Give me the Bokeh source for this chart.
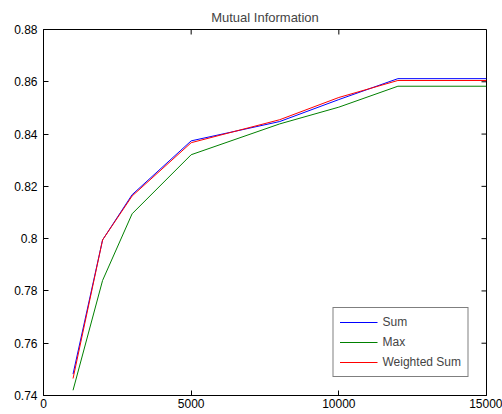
from bokeh.plotting import figure
from bokeh.models import FixedTicker, Legend, LegendItem, Range1d
from bokeh.embed import file_html
from bokeh.resources import INLINE

# Data
sample_sizes = [1000, 2000, 3000, 5000, 8000, 10000, 12000, 15000]
sum_vals = [0.7482, 0.7995, 0.8168, 0.8374, 0.8448, 0.8532, 0.8612, 0.8612]
max_vals = [0.7420, 0.7840, 0.8095, 0.8321, 0.8439, 0.8503, 0.8583, 0.8583]
wsum_vals = [0.7465, 0.7995, 0.8163, 0.8367, 0.8455, 0.8540, 0.8605, 0.8605]

x_ticks = [0, 5000, 10000, 15000]
y_ticks = [0.74, 0.76, 0.78, 0.80, 0.82, 0.84, 0.86, 0.88]
y_tick_labels = ["0.74", "0.76", "0.78", "0.8", "0.82", "0.84", "0.86", "0.88"]

FONT = "Liberation Sans"
X_MIN, X_MAX = 0, 15000
Y_MIN, Y_MAX = 0.74, 0.88
FRAME_W, FRAME_H = 443, 366
TICK_PX = 5

p = figure(
    frame_width=FRAME_W, frame_height=FRAME_H,
    min_border_left=43, min_border_right=16, min_border_top=29, min_border_bottom=19,
    x_range=Range1d(X_MIN, X_MAX), y_range=Range1d(Y_MIN, Y_MAX),
    output_backend="svg", toolbar_location=None,
    title="Mutual Information",
    background_fill_color="white", border_fill_color="white",
)
p.title.text_font = FONT
p.title.text_font_size = "13px"
p.title.text_font_style = "normal"
p.title.align = "center"
p.title.standoff = 10

p.grid.visible = False
p.outline_line_color = "black"
p.outline_line_width = 1

for ax in (p.xaxis[0], p.yaxis[0]):
    ax.axis_line_color = "black"
    ax.major_tick_in = TICK_PX
    ax.major_tick_out = 0
    ax.minor_tick_line_color = None
    ax.major_tick_line_color = "black"
    ax.major_label_text_font = FONT
    ax.major_label_text_font_size = "12px"
    ax.major_label_text_color = "black"

p.xaxis.ticker = FixedTicker(ticks=x_ticks)
p.yaxis.ticker = FixedTicker(ticks=y_ticks)
p.yaxis.major_label_overrides = {t: l for t, l in zip(y_ticks, y_tick_labels)}
p.xaxis[0].major_label_standoff = 3
p.yaxis[0].major_label_standoff = 6

r_sum = p.line(sample_sizes, sum_vals, line_color="#0000FF", line_width=1)
r_max = p.line(sample_sizes, max_vals, line_color="#008000", line_width=1)
r_wsum = p.line(sample_sizes, wsum_vals, line_color="#FF0000", line_width=1)

# Mirror ticks on the top and right edges (MATLAB "box on" style)
dy = TICK_PX * (Y_MAX - Y_MIN) / FRAME_H
dx = TICK_PX * (X_MAX - X_MIN) / FRAME_W
p.segment(x0=x_ticks, y0=[Y_MAX] * len(x_ticks), x1=x_ticks, y1=[Y_MAX - dy] * len(x_ticks),
          line_color="black", line_width=1)
p.segment(x0=[X_MAX] * len(y_ticks), y0=y_ticks, x1=[X_MAX - dx] * len(y_ticks), y1=y_ticks,
          line_color="black", line_width=1)

legend = Legend(
    items=[
        LegendItem(label="Sum", renderers=[r_sum]),
        LegendItem(label="Max", renderers=[r_max]),
        LegendItem(label="Weighted Sum", renderers=[r_wsum]),
    ],
    location="bottom_right",
    margin=18,
    padding=6,
    spacing=4,
    glyph_width=38,
    glyph_height=16,
    label_height=16,
    label_standoff=5,
    label_text_font=FONT,
    label_text_font_size="12px",
    border_line_color="black",
    border_line_width=1,
    background_fill_color="white",
    background_fill_alpha=1,
)
p.add_layout(legend)

open("out.html", "w").write(file_html(p, INLINE))
